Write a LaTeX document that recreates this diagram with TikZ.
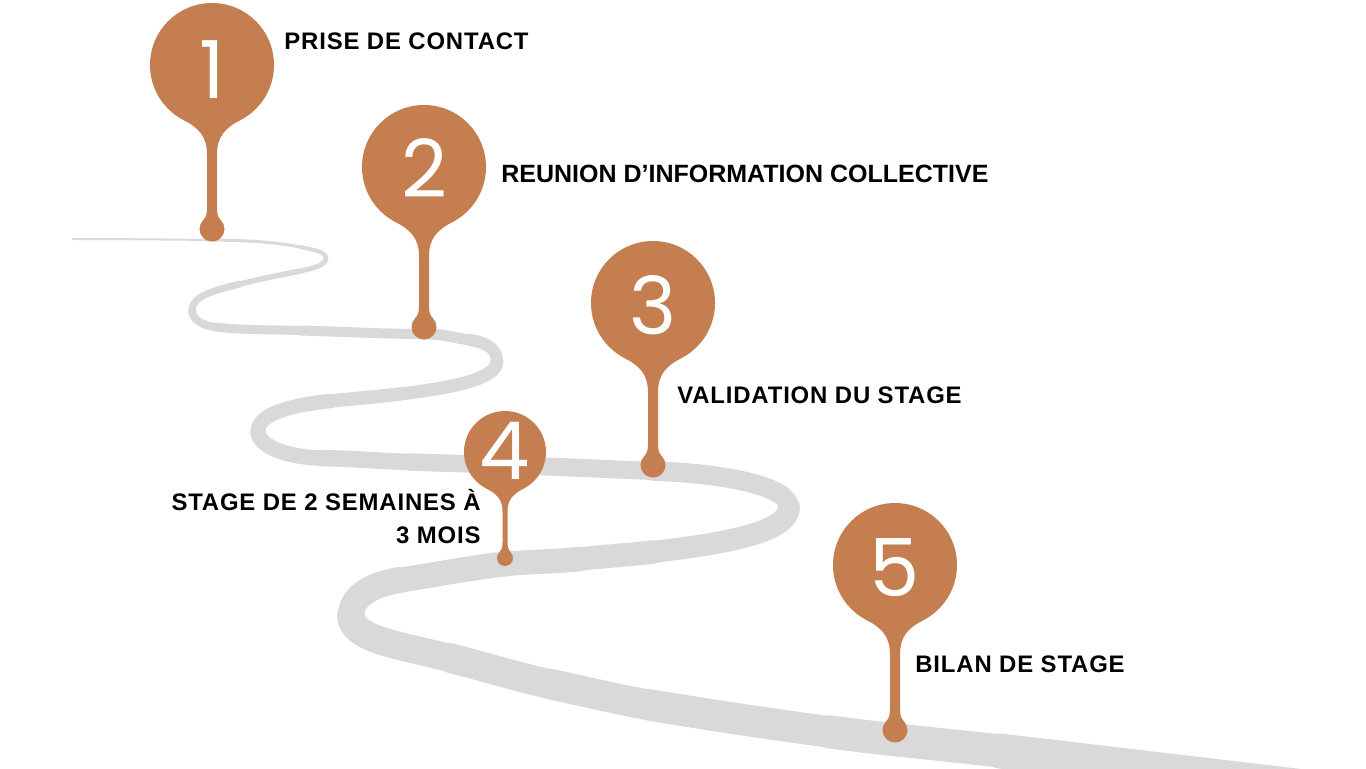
\documentclass[tikz,border=0pt]{standalone}
\usepackage{fontspec}
\setmainfont{Liberation Sans}
\newfontfamily\lblfont{Liberation Sans}[LetterSpace=3.5]
\newfontfamily\numfont{Poppins}
\definecolor{pincol}{HTML}{C47E50}
\definecolor{roadcol}{HTML}{D9D9D9}
\newcommand\drawpin[8]{%
  \pgfmathsetmacro\pXl{#2-0.47*#4}%
  \pgfmathsetmacro\pXr{#2+0.47*#4}%
  \pgfmathsetmacro\pYf{#3+0.88*#4}%
  \pgfmathsetmacro\pCxl{\pXl+0.88*0.3*#4}%
  \pgfmathsetmacro\pCxr{\pXr-0.88*0.3*#4}%
  \pgfmathsetmacro\pCy{\pYf+0.47*0.3*#4}%
  \pgfmathsetmacro\pYe{#3+1.45*#4}%
  \pgfmathsetmacro\pYc{\pYe-0.3*#4}%
  \pgfmathsetmacro\pSl{#2-#7}%
  \pgfmathsetmacro\pSr{#2+#7}%
  \pgfmathsetmacro\pYs{#5-1.9*#6}%
  \pgfmathsetmacro\pYsc{\pYs+0.5*#6}%
  \pgfmathsetmacro\pJl{#2-0.7*#6}%
  \pgfmathsetmacro\pJr{#2+0.7*#6}%
  \pgfmathsetmacro\pJy{#5-0.7*#6}%
  \pgfmathsetmacro\pJcl{\pJl+0.3*#6}%
  \pgfmathsetmacro\pJcr{\pJr-0.3*#6}%
  \pgfmathsetmacro\pJcy{\pJy-0.3*#6}%
  \fill[pinfill] (#2,#3) circle[radius=#4];
  \fill[pinfill] (\pXl,\pYf) .. controls (\pCxl,\pCy) and (\pSl,\pYc) .. (\pSl,\pYe)
     -- (\pSl,\pYs) .. controls (\pSl,\pYsc) and (\pJcl,\pJcy) .. (\pJl,\pJy)
     -- (\pJr,\pJy) .. controls (\pJcr,\pJcy) and (\pSr,\pYsc) .. (\pSr,\pYs)
     -- (\pSr,\pYe) .. controls (\pSr,\pYc) and (\pCxr,\pCy) .. (\pXr,\pYf)
     -- (#2,#3) -- cycle;
  \fill[pinfill] (#2,#5) circle[radius=#6];
}
\begin{document}
\begin{tikzpicture}[x=0.5pt,y=-0.5pt,
  road/.style={draw=roadcol,line cap=round,line join=round},
  pinfill/.style={fill=pincol},
  digit/.style={text=white,font=\numfont\fontsize{40}{40}\selectfont,inner sep=0pt},
  lbl/.style={font=\lblfont\bfseries\fontsize{11.95}{16.5}\selectfont,inner sep=0pt,text=black},
  lblnarrow/.style={font=\bfseries\fontsize{12.5}{15}\selectfont,inner sep=0pt,text=black}]
\fill[white] (0,0) rectangle (1366,768);
\useasboundingbox (0,0) rectangle (1366,768);
\clip (0,0) rectangle (1366,768);
% road
\draw[road,line width=1pt]    (73,239) .. controls +(46,0) and +(-46,-0.5) .. (212,240);
\draw[road,line width=1.5pt]  (212,240) .. controls +(30,0.5) and +(-30,-6) .. (300,247);
\draw[road,line width=2pt]    (300,247) .. controls +(14,2.8) and +(0,-6) .. (326,258);
\draw[road,line width=2.5pt]  (326,258) .. controls +(0,7) and +(14,-2.8) .. (300,271);
\draw[road,line width=2.75pt] (300,271) .. controls +(-20,4) and +(20,-5) .. (240,284);
\draw[road,line width=3.5pt]  (240,284) .. controls +(-26,6.5) and +(0,-14) .. (192,310);
\draw[road,line width=4pt]    (192,310) .. controls +(0,9.4) and +(-12.6,-1.5) .. (215,327);
\draw[road,line width=4.5pt]  (215,327) .. controls +(28,3.4) and +(-28,-1) .. (300,330.5);
\draw[road,line width=5pt]    (300,330.5) .. controls +(41,1) and +(-40,0) .. (424,334);
\draw[road,line width=5.5pt]  (424,334) .. controls +(20,0) and +(-20,-3) .. (470,340);
\draw[road,line width=6pt]    (470,340) .. controls +(20,3) and +(0,-10) .. (497,361);
\draw[road,line width=6.5pt]  (497,361) .. controls +(0,18) and +(53,-6.4) .. (400,394);
\draw[road,line width=6.75pt] (400,394) .. controls +(-23,2.8) and +(23,-2.3) .. (330,401);
\draw[road,line width=7.25pt] (330,401) .. controls +(-40,4) and +(0,-16.5) .. (258,431);
\draw[road,line width=7.75pt] (258,431) .. controls +(0,15) and +(-34,-1) .. (320,458);
\draw[road,line width=8.25pt] (320,458) .. controls +(30,0.5) and +(-30,-1) .. (410,462);
\draw[road,line width=8.75pt] (410,462) .. controls +(30,1) and +(-30,-1) .. (505,465);
\draw[road,line width=9pt]    (505,465) .. controls +(49,1.5) and +(-49,-2) .. (653,471);
\draw[road,line width=9.75pt] (653,471) .. controls +(75,2.5) and +(0,-20) .. (789,507);
\draw[road,line width=11pt]   (789,507) .. controls +(0,25) and +(75,-9) .. (653,552);
\draw[road,line width=11.75pt](653,552) .. controls +(-25,3) and +(25,-2.8) .. (580,559);
\draw[road,line width=12.25pt](580,559) .. controls +(-25,2.8) and +(25,-2.5) .. (505,564);
\draw[road,line width=12.5pt] (505,564) .. controls +(-35,3.6) and +(35,-5) .. (400,580);
\draw[road,line width=13pt]   (400,580) .. controls +(-27,4) and +(0,-19) .. (351,615);
\draw[road,line width=14pt]   (351,615) .. controls +(0,24) and +(-54,-13.5) .. (450,658);
\draw[road,line width=14.75pt](450,658) .. controls +(33,8.25) and +(-33,-7) .. (550,684);
\draw[road,line width=15.25pt](550,684) .. controls +(33,7) and +(-33,-5.5) .. (650,705);
\draw[road,line width=15.75pt](650,705) .. controls +(60,10) and +(-60,-8) .. (830,732);
\draw[road,line width=16.5pt] (830,732) .. controls +(57,7.5) and +(-57,-6.5) .. (1000,751);
\draw[road,line width=17.5pt] (1000,751) .. controls +(110,13) and +(-110,-13) .. (1330,790);
% pins
\drawpin{p1}{212}{65}{62}{229}{12.5}{5}{1}
\drawpin{p2}{424}{167}{62}{327}{12.5}{5}{2}
\drawpin{p3}{653}{303}{62}{465}{12.5}{5}{3}
\drawpin{p4}{505}{452}{41}{558}{8}{2.5}{4}
\drawpin{p5}{895}{565}{62}{730}{12.5}{5}{5}
\node[digit] (n1) at (212,70) {1};
\node[digit] (n2) at (424,168) {2};
\node[digit] (n3) at (653,305) {3};
\node[digit] (n4) at (505,451) {4};
\node[digit] (n5) at (895,568) {5};
% labels
\node[lbl,anchor=base west] (t1) at (284,49) {PRISE DE CONTACT};
\node[lblnarrow,anchor=base west] (t2) at (501,182) {REUNION D’INFORMATION COLLECTIVE};
\node[lbl,anchor=base west] (t3) at (677,403) {VALIDATION DU STAGE};
\node[lbl,anchor=south east,align=right] (t4) at (481,544) {STAGE DE 2 SEMAINES À\\3 MOIS};
\node[lbl,anchor=base west] (t5) at (915,672) {BILAN DE STAGE};
\end{tikzpicture}
\end{document}
